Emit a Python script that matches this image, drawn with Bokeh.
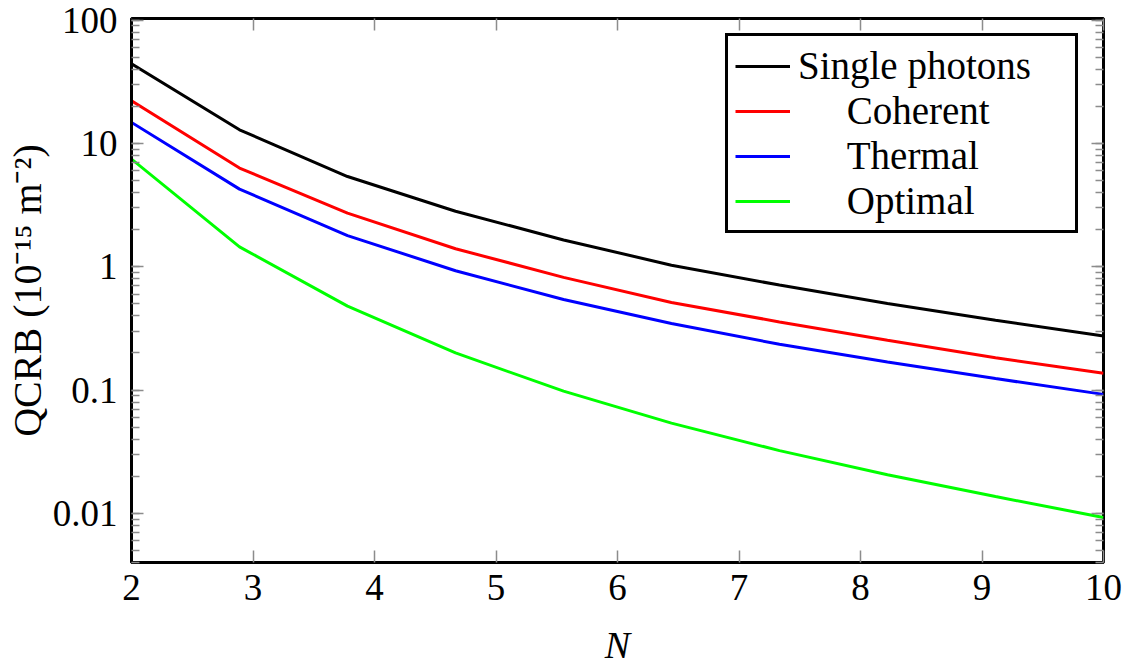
from bokeh.plotting import figure
from bokeh.models import Legend, LegendItem, LinearAxis, LogAxis, FixedTicker, CustomJSTickFormatter
from bokeh.embed import file_html
from bokeh.resources import INLINE

# Data
N = [2.0, 2.889, 3.778, 4.667, 5.556, 6.444, 7.333, 8.222, 9.111, 10.0]
single_photons = [44.2, 12.9, 5.39, 2.82, 1.65, 1.03, 0.71, 0.504, 0.369, 0.275]
coherent = [22.2, 6.31, 2.72, 1.40, 0.82, 0.513, 0.357, 0.254, 0.183, 0.137]
thermal = [14.8, 4.26, 1.79, 0.928, 0.543, 0.347, 0.235, 0.169, 0.124, 0.0923]
optimal = [7.47, 1.45, 0.479, 0.20, 0.098, 0.054, 0.0323, 0.0206, 0.0137, 0.00927]
series_names = ["Single photons", "Coherent", "Thermal", "Optimal"]
x_ticks = [2, 3, 4, 5, 6, 7, 8, 9, 10]
y_tick_labels = {0.01: "0.01", 0.1: "0.1", 1: "1", 10: "10", 100: "100"}

FONT = "Liberation Serif"
TICK_COLOR = "#8c8c8c"
NBSP = "\u00a0"
# legend labels are centred in their column, as in the reference
legend_pad = [0, 5, 5, 5]

p = figure(width=1131, height=669, x_range=(2, 10), y_range=(0.004, 103),
           y_axis_type="log", output_backend="svg", toolbar_location=None,
           min_border_left=131, min_border_right=28, min_border_top=18,
           min_border_bottom=107)

p.grid.visible = False
p.outline_line_color = "black"
p.outline_line_width = 3
p.outline_line_alpha = 1.0
p.background_fill_color = "white"
p.border_fill_color = "white"

series = [single_photons, coherent, thermal, optimal]
colors = ["#000000", "#ff0000", "#0000ff", "#00ff00"]
items = []
for name, vals, col, pad in zip(series_names, series, colors, legend_pad):
    r = p.line(N, vals, line_color=col, line_width=3)
    items.append(LegendItem(label=NBSP * pad + name, renderers=[r]))

# bottom axis
xa = p.xaxis[0]
xa.ticker = FixedTicker(ticks=x_ticks)
xa.axis_label = "N"
xa.axis_label_text_font = FONT
xa.axis_label_text_font_style = "italic"
xa.axis_label_text_font_size = "38px"
xa.axis_label_text_color = "black"
xa.axis_label_standoff = 21
xa.major_label_text_font = FONT
xa.major_label_text_font_size = "37px"
xa.major_label_text_color = "black"
xa.major_label_standoff = 12
xa.major_tick_in = 12
xa.major_tick_out = 0
xa.major_tick_line_color = TICK_COLOR
xa.major_tick_line_width = 1.5
xa.minor_tick_line_color = None
xa.axis_line_color = "black"
xa.axis_line_width = 3

# left axis
ya = p.yaxis[0]
ya.ticker.num_minor_ticks = 10
ya.major_label_overrides = y_tick_labels
ya.axis_label = "QCRB (10⁻¹⁵ m⁻²)"
ya.axis_label_text_font = FONT
ya.axis_label_text_font_style = "normal"
ya.axis_label_text_font_size = "40px"
ya.axis_label_text_color = "black"
ya.axis_label_standoff = 0
ya.major_label_text_font = FONT
ya.major_label_text_font_size = "37px"
ya.major_label_text_color = "black"
ya.major_label_standoff = 14
ya.major_tick_in = 12
ya.major_tick_out = 0
ya.minor_tick_in = 8
ya.minor_tick_out = 0
ya.major_tick_line_color = TICK_COLOR
ya.minor_tick_line_color = TICK_COLOR
ya.major_tick_line_width = 1.5
ya.minor_tick_line_width = 1.5
ya.axis_line_color = "black"
ya.axis_line_width = 3

# mirrored ticks (top / right), without labels
top = LinearAxis(ticker=FixedTicker(ticks=x_ticks),
                 formatter=CustomJSTickFormatter(code="return ''"),
                 major_label_text_font_size="1px",
                 axis_line_color=None, major_tick_in=12, major_tick_out=0,
                 major_tick_line_color=TICK_COLOR, major_tick_line_width=1.5,
                 minor_tick_line_color=None, major_label_standoff=0)
p.add_layout(top, "above")
right = LogAxis(formatter=CustomJSTickFormatter(code="return ''"),
                major_label_text_font_size="1px", axis_line_color=None,
                major_tick_in=12, major_tick_out=0, minor_tick_in=8, minor_tick_out=0,
                major_tick_line_color=TICK_COLOR, minor_tick_line_color=TICK_COLOR,
                major_tick_line_width=1.5, minor_tick_line_width=1.5,
                major_label_standoff=0)
right.ticker.num_minor_ticks = 10
p.add_layout(right, "right")

legend = Legend(items=items, location=(594, 329),
                label_text_font=FONT, label_text_font_size="39px",
                label_text_color="black",
                glyph_width=55, glyph_height=20, label_standoff=8,
                label_width=270, padding=7, spacing=0,
                border_line_color="black", border_line_width=3,
                border_line_alpha=1.0,
                background_fill_color="white", background_fill_alpha=1.0)
p.add_layout(legend, "center")

open("out.html", "w").write(file_html(p, INLINE))
